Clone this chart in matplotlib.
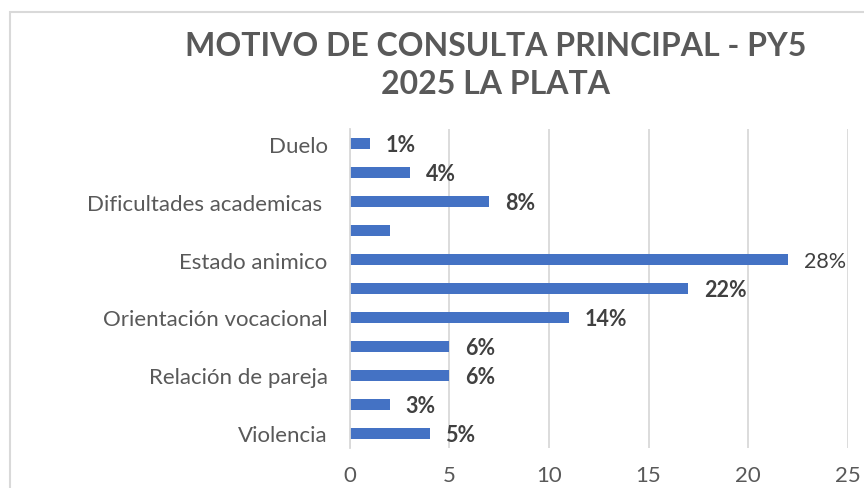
import matplotlib.pyplot as plt
from matplotlib.patches import Rectangle

# Data (top to bottom as in the picture)
categorias = ['Duelo', '', 'Dificultades academicas ', '', 'Estado animico', '',
              'Orientación vocacional', '', 'Relación de pareja', '', 'Violencia']
valores = [1, 3, 7, 2, 22, 17, 11, 5, 5, 2, 4]
etiquetas = ['1%', '4%', '8%', '', '28%', '22%', '14%', '6%', '6%', '3%', '5%']
negrita = [True, True, True, False, False, True, True, True, True, True, True]
x_ticks = [0, 5, 10, 15, 20, 25]

plt.rcParams['font.family'] = ['Lato', 'DejaVu Sans']

fig = plt.figure(figsize=(8.64, 4.89), dpi=100)
ax = fig.add_axes([0.405, 0.082, 0.576, 0.652])

pos = list(range(len(valores)))
ax.barh(pos, valores, height=0.36, color='#4472C4')

for p, v, t, b in zip(pos, valores, etiquetas, negrita):
    if t:
        ax.annotate(t, (v, p), xytext=(11.5, -1), textcoords='offset points',
                    va='center', ha='left', fontsize=15.5,
                    fontweight='bold' if b else 'normal', color='#404040')

ax.set_ylim(10.5, -0.5)
ax.set_xlim(0, 25)
ax.set_yticks(pos)
ax.set_yticklabels(categorias)
ax.set_xticks(x_ticks)
ax.tick_params(axis='y', length=0, pad=16, labelsize=16, labelcolor='#595959')
ax.tick_params(axis='x', length=0, pad=12, labelsize=16, labelcolor='#595959')
ax.xaxis.grid(True, color='#D9D9D9', linewidth=1.3)
ax.set_axisbelow(True)
for s in ['top', 'right', 'bottom']:
    ax.spines[s].set_visible(False)
ax.spines['left'].set_color('#D9D9D9')
ax.spines['left'].set_linewidth(1.3)

fig.text(0.574, 0.935, 'MOTIVO DE CONSULTA PRINCIPAL - PY5\n2025 LA PLATA',
         ha='center', va='top', fontsize=23, fontweight='bold', color='#595959',
         linespacing=1.4)

# chart border (cropped at right and bottom)
fig.patches.append(Rectangle((9.5 / 864, -0.1), 1.2, 1 - 12.5 / 489 + 0.1,
                             transform=fig.transFigure, fill=False,
                             edgecolor='#D9D9D9', linewidth=1.5))

fig.savefig('out.png', dpi=100)
